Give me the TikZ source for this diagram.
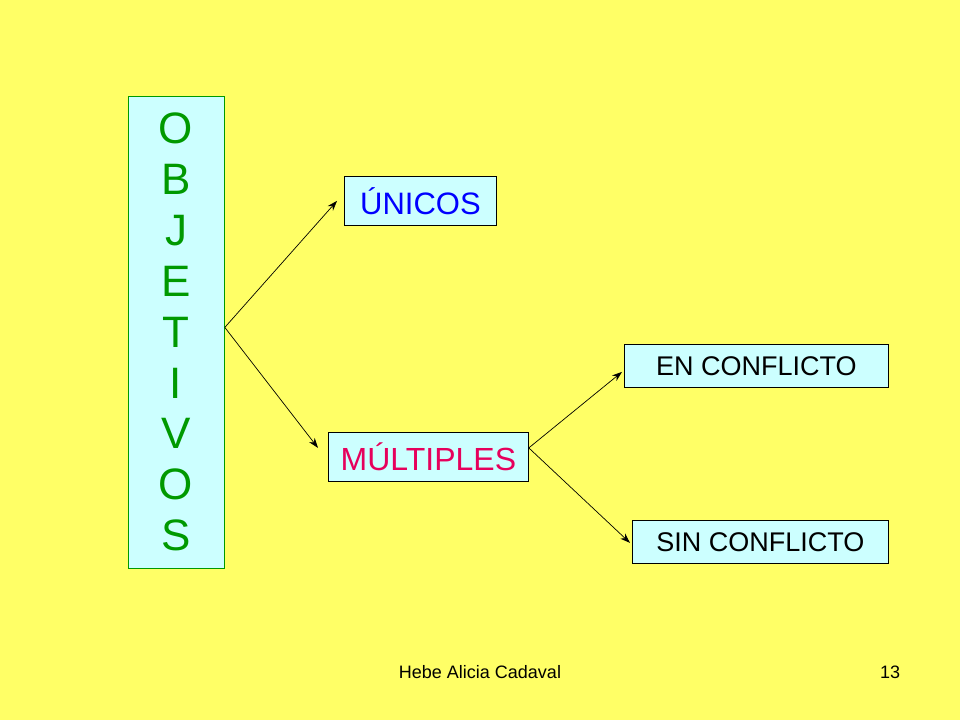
\documentclass[tikz,border=0pt]{standalone}
\usepackage{fontspec}
\setmainfont{Liberation Sans}
\usetikzlibrary{arrows.meta,calc}
\definecolor{bgyellow}{HTML}{FFFF66}
\definecolor{boxcyan}{HTML}{CCFFFF}
\definecolor{objgreen}{HTML}{009900}
\definecolor{unblue}{HTML}{0000FF}
\definecolor{mulred}{HTML}{E6005C}
\tikzset{
  box/.style={draw=black, line width=0.8pt, fill=boxcyan, inner sep=0pt, anchor=north west},
  conn/.style={-{Stealth[length=10pt,width=7pt]}, line width=0.7pt},
  foot/.style={font=\fontsize{18}{20}\selectfont, inner sep=0pt}
}
\begin{document}
\begin{tikzpicture}[x=1pt,y=-1pt]
\fill[bgyellow] (0,0) rectangle (960,720);
\useasboundingbox (0,0) rectangle (960,720);
% left vertical box
\node[box, draw=objgreen, minimum width=96pt, minimum height=472pt] (obj) at (128,96) {};
\node[text=objgreen, align=center, font=\fontsize{44}{50.9}\selectfont, inner sep=0pt] (objtxt) at (176,332) {O\\B\\J\\E\\T\\I\\V\\O\\S};
% second level
\node[box, minimum width=152pt, minimum height=49pt] (uni) at (344,176) {};
\node[text=unblue, font=\fontsize{31}{34}\selectfont] (unitxt) at (uni.center) {ÚNICOS};
\node[box, minimum width=200pt, minimum height=49pt] (mul) at (328,432) {};
\node[text=mulred, font=\fontsize{32}{34}\selectfont] (multxt) at (mul.center) {MÚLTIPLES};
% third level
\node[box, minimum width=264pt, minimum height=43pt] (enc) at (624,344) {};
\node[font=\fontsize{27}{30}\selectfont] (enctxt) at (enc.center) {EN CONFLICTO};
\node[box, minimum width=256pt, minimum height=43pt] (sinc) at (632,520) {};
\node[font=\fontsize{27}{30}\selectfont] (sinctxt) at (sinc.center) {SIN CONFLICTO};
% connectors
\coordinate (objout) at ($(obj.east)+(0,-5)$);
\coordinate (uniin) at ($(uni.west)+(-7,0)$);
\coordinate (mulin) at ($(mul.west)+(-10,-9)$);
\coordinate (mulout) at ($(mul.east)+(0,-9)$);
\coordinate (encin) at ($(enc.west)+(-2,6)$);
\coordinate (sincin) at ($(sinc.west)+(-2,1)$);
\draw[conn] (objout) -- (uniin);
\draw[conn] (objout) -- (mulin);
\draw[conn] (mulout) -- (encin);
\draw[conn] (mulout) -- (sincin);
% footer
\node[foot] (author) at (480,672) {Hebe Alicia Cadaval};
\node[foot] (page) at (890,672) {13};
\end{tikzpicture}
\end{document}
